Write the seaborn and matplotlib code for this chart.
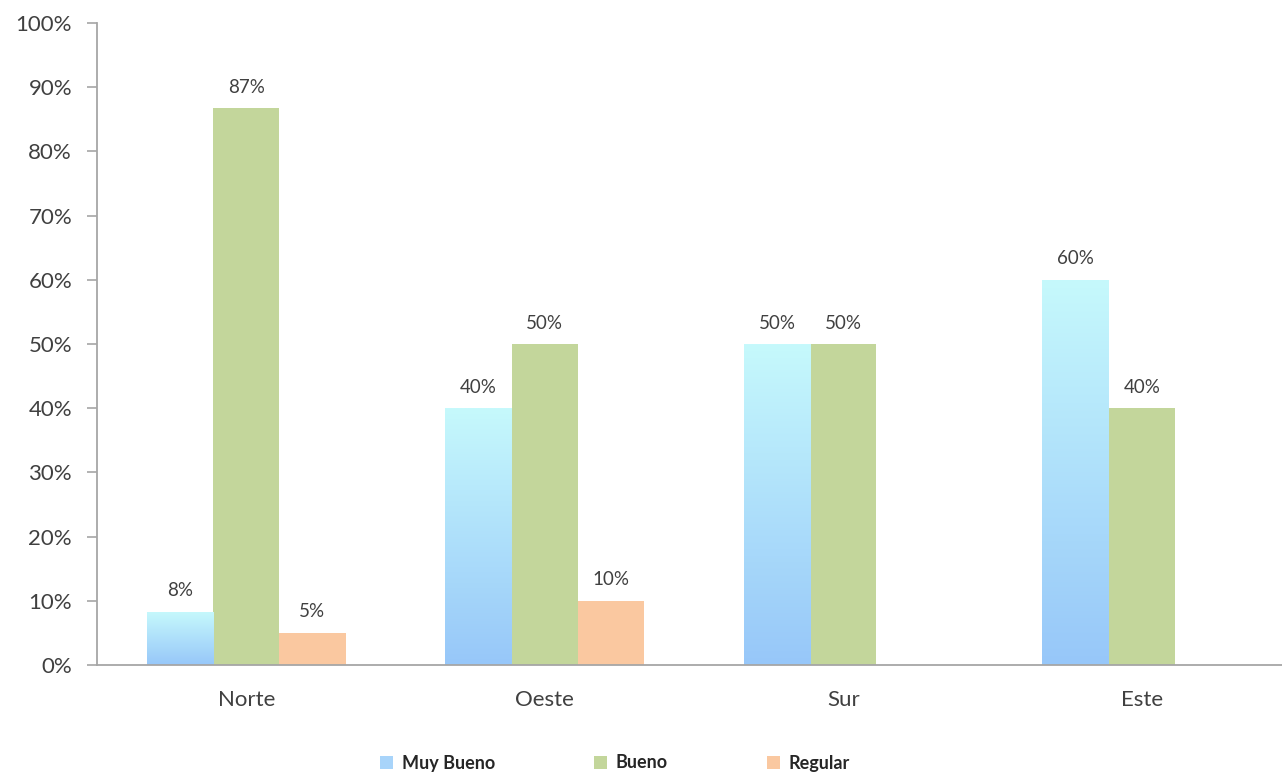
import numpy as np
import pandas as pd
import matplotlib
matplotlib.use("Agg")
import matplotlib.pyplot as plt
import seaborn as sns
from matplotlib.colors import LinearSegmentedColormap
from matplotlib.patches import Patch

regions = ["Norte", "Oeste", "Sur", "Este"]
series = ["Muy Bueno", "Bueno", "Regular"]
muy_bueno = [8.3, 40, 50, 60]
bueno = [86.7, 50, 50, 40]
regular = [5, 10, 0, 0]
y_ticks = [0, 10, 20, 30, 40, 50, 60, 70, 80, 90, 100]

colors = ["#a8d4fa", "#c3d69b", "#fac8a0"]
grad_top = "#c6f9fc"
grad_bottom = "#97c7f9"
text_color = "#404040"
axis_color = "#a6a6a6"

df = pd.DataFrame({
    "region": regions * 3,
    "serie": [s for s in series for _ in regions],
    "value": muy_bueno + bueno + regular,
})

sns.set_theme(style="white")
plt.rcParams["font.family"] = ["Lato", "DejaVu Sans"]

fig = plt.figure(figsize=(12.82, 7.76), dpi=100)
ax = fig.add_axes([97 / 1282, 111 / 776, 1194 / 1282, 642 / 776])

sns.barplot(data=df, x="region", y="value", hue="serie", order=regions,
            hue_order=series, palette=colors, width=0.665, saturation=1,
            linewidth=0, edgecolor="none", ax=ax, legend=False)

ax.set_ylim(0, 100)
ax.set_xlim(-0.5, 3.5)

# gradient fill for "Muy Bueno" bars
cmap = LinearSegmentedColormap.from_list("mb", [grad_bottom, grad_top])
grad = np.linspace(0, 1, 256).reshape(-1, 1)
for patch in ax.containers[0].patches:
    x0, y0 = patch.get_x(), patch.get_y()
    w, h = patch.get_width(), patch.get_height()
    if h <= 0:
        continue
    patch.set_facecolor("none")
    patch.set_edgecolor("none")
    im = ax.imshow(grad, cmap=cmap, origin="lower", aspect="auto",
                   extent=[x0, x0 + w, y0, y0 + h], zorder=patch.get_zorder())
    im.set_clip_path(patch)
ax.set_xlim(-0.5, 3.5)
ax.set_ylim(0, 100)

for cont in ax.containers:
    labels = [f"{v:.0f}%" if v > 0 else "" for v in cont.datavalues]
    ax.bar_label(cont, labels=labels, padding=9, fontsize=13.5, color=text_color)

ax.set_yticks(y_ticks)
ax.set_yticklabels([f"{t}%" for t in y_ticks])
ax.set_xticks(range(len(regions)))
ax.set_xticklabels(regions)
ax.set_xticks([0.5, 1.5, 2.5], minor=True)
ax.tick_params(axis="x", which="major", length=0, pad=18, labelsize=16, labelcolor=text_color)
ax.tick_params(axis="x", which="minor", length=6, width=1.2, color=axis_color, direction="out")
ax.tick_params(axis="y", length=7, width=1.2, color=axis_color, direction="out",
               labelsize=16, labelcolor=text_color, pad=11, left=True)
ax.set_xlabel("")
ax.set_ylabel("")

for s in ["top", "right"]:
    ax.spines[s].set_visible(False)
for s in ["left", "bottom"]:
    ax.spines[s].set_color(axis_color)
    ax.spines[s].set_linewidth(1.3)

handles = [Patch(facecolor=c, edgecolor="none") for c in colors]
leg = fig.legend(handles, series, loc="center", bbox_to_anchor=(615 / 1282, 1 - 763 / 776),
                 ncol=3, frameon=False, handlelength=0.7, handleheight=0.7,
                 columnspacing=5.5, handletextpad=0.5,
                 prop={"weight": "bold", "size": 13, "family": ["Lato", "DejaVu Sans"]})
for t in leg.get_texts():
    t.set_color("#262626")

fig.savefig("out.png", dpi=100, facecolor="white")
